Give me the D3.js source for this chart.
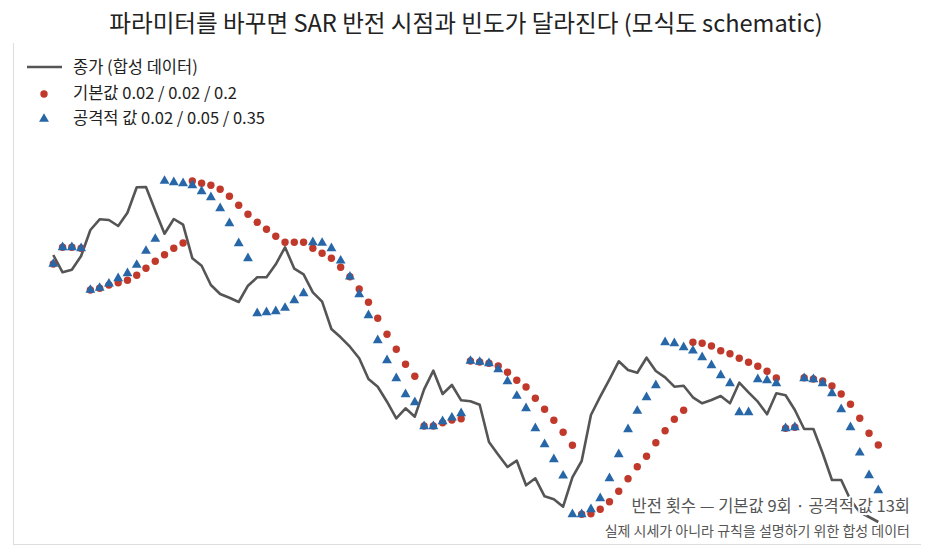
<!DOCTYPE html>
<html><head><meta charset="utf-8">
<script src="https://cdn.jsdelivr.net/npm/d3@7"></script>
<style>body{margin:0;background:#fff}text{font-family:"Noto Sans CJK KR","Noto Sans",sans-serif}</style>
</head><body><svg id="c" width="932" height="557"></svg>
<script>
const price=[345,327.7,330.3,344,370,380.7,380,374,387.3,412.7,413,389.3,366.3,381,375.3,341.7,334.3,315,306,302.3,298,314.3,322.7,322.7,335.7,352.7,331.3,325.7,307.7,298.3,271,262.7,253.3,241.7,221,213.3,198.3,181.7,191.7,183.3,210.7,229.3,206,215,199.7,198.7,195.3,158,145.3,133,139.3,114.7,121.7,103.7,100.7,93.3,122.7,139,185,203.3,220.7,238.7,230,227.3,242.3,229,222.7,213.3,214.3,202.7,196.7,200,204,196.7,217.3,207.7,198.3,185.7,206.7,204.7,190,171,171,146.7,120,120,100,88,83,78];
const sarDefault=[336,352.7,352.7,351.7,310,311.7,315,317.3,319.7,324.7,331.7,338.7,345.3,351.7,357,419,416.7,414.7,410.7,403.7,394.7,385.7,377.7,370.7,363.7,357.7,357.7,357.7,351.7,346.7,341.7,332.7,323.3,311,297.7,281.7,265.7,250.7,235.7,223.7,174,174,177.3,180,181.3,239,238,236.7,234,227.7,219.7,213,201.7,190.7,179.7,167.7,154.7,85.7,86.3,90.7,98.3,108.7,121.3,133.3,143.7,157.3,169.3,180.7,189.7,257.7,256.7,254,249.3,246.3,241.7,237.7,233.7,228.7,222,171.7,172.7,222.3,221,219,214,206,195.7,181.7,166.7,155];
const sarAggressive=[336,352.7,352.7,351.7,310,312,316.3,321.7,326.7,335,349,361,419,417.7,416.7,414.7,408.7,402.7,391.7,376.7,356.7,341.7,286.7,287.7,288.7,292,299.7,306.7,357.7,357,351.7,339.3,323.3,305.7,284.7,259.7,239.7,221.7,205.7,197.7,173.7,173.7,178.7,182.3,186.7,239,238,236.7,230.7,218.7,204,191.7,171.7,155.7,140.7,124.3,85.7,85.7,90.7,101.7,121.7,145.7,170.7,189,202.7,214.7,257.7,256.7,252.7,249.3,242.7,234.7,224.7,216.7,187.7,187.7,220.7,219.7,216.7,171.7,172.7,221.7,220.7,216.7,206.7,190.7,172.7,147.3,124.7,109.7];
const legendLabels=["종가 (합성 데이터)","기본값 0.02 / 0.02 / 0.2","공격적 값 0.02 / 0.05 / 0.35"];
const title="파라미터를 바꾸면 SAR 반전 시점과 빈도가 달라진다 (모식도 schematic)";
const note1="반전 횟수 — 기본값 9회 · 공격적 값 13회";
const note2="실제 시세가 아니라 규칙을 설명하기 위한 합성 데이터";

const svg=d3.select("#c");
const x=d3.scaleLinear().domain([0,price.length-1]).range([53.3,878.3]);
const y=d3.scaleLinear().domain([0,600]).range([600,0]);
const RED="#c0392b",BLUE="#2767a8",GREY="#555";

svg.append("line").attr("x1",13.5).attr("x2",13.5).attr("y1",43).attr("y2",544).attr("stroke","#ddd");
svg.append("line").attr("x1",13).attr("x2",921).attr("y1",544.5).attr("y2",544.5).attr("stroke","#ddd");

svg.append("text").attr("x",466).attr("y",32).attr("text-anchor","middle").attr("font-size",23.6).attr("fill","#222").text(title);

svg.append("path").datum(price).attr("fill","none").attr("stroke",GREY).attr("stroke-width",2.6).attr("stroke-linejoin","round")
  .attr("d",d3.line().x((d,i)=>x(i)).y(d=>y(d)));

svg.append("g").selectAll("circle").data(sarDefault).join("circle")
  .attr("cx",(d,i)=>x(i)).attr("cy",d=>y(d)).attr("r",3.7).attr("fill",RED);
const tri=d3.symbol().type(d3.symbolTriangle).size(42);
svg.append("g").selectAll("path").data(sarAggressive).join("path")
  .attr("transform",(d,i)=>`translate(${x(i)},${y(d)})`).attr("d",tri).attr("fill",BLUE);

// legend
const lg=svg.append("g");
lg.append("line").attr("x1",27).attr("x2",62).attr("y1",67).attr("y2",67).attr("stroke",GREY).attr("stroke-width",2.6);
lg.append("circle").attr("cx",44).attr("cy",94).attr("r",3.7).attr("fill",RED);
lg.append("path").attr("transform","translate(44,119)").attr("d",tri).attr("fill",BLUE);
legendLabels.forEach((t,i)=>lg.append("text").attr("x",73).attr("y",73+i*25.5).attr("font-size",16.5).attr("fill","#222").text(t));

// notes
[[note1,512,16.5],[note2,536,14]].forEach(([t,yy,fs])=>{
  svg.append("text").attr("x",910).attr("y",yy).attr("text-anchor","end").attr("font-size",fs)
    .attr("fill","#555").attr("stroke","#fff").attr("stroke-width",4).attr("paint-order","stroke").attr("stroke-linejoin","round").text(t);
});
</script></body></html>
